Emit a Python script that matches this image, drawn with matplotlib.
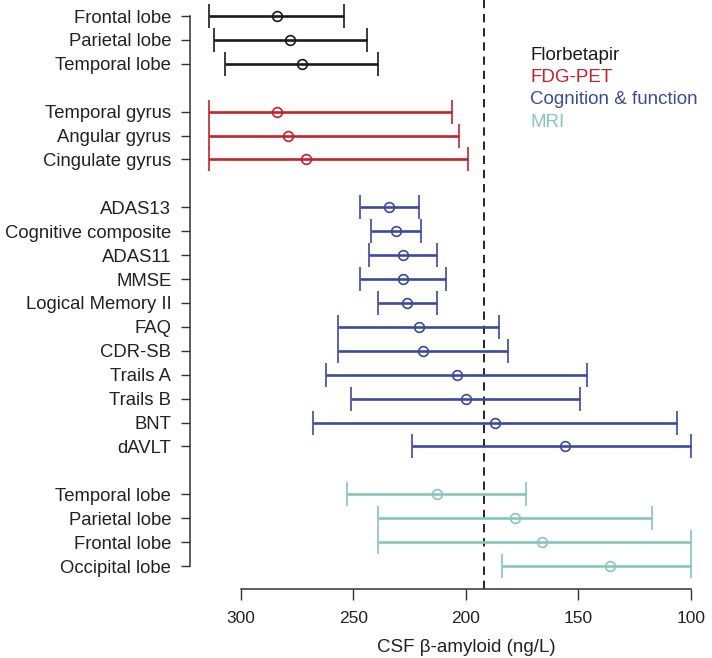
import matplotlib
matplotlib.use("Agg")
import matplotlib.pyplot as plt
import numpy as np

plt.rcParams['font.family'] = ['Liberation Sans', 'DejaVu Sans']

# ---- data (CSF beta-amyloid, ng/L) ----
group_names = ["Florbetapir", "FDG-PET", "Cognition & function", "MRI"]
group_colors = ["#1a1a1a", "#c4222b", "#3b4a9a", "#86c6be"]

florbetapir_labels = ["Frontal lobe", "Parietal lobe", "Temporal lobe"]
florbetapir_est = [284, 278, 273]
florbetapir_upper = [314, 312, 307]
florbetapir_lower = [254, 244, 239]

fdg_labels = ["Temporal gyrus", "Angular gyrus", "Cingulate gyrus"]
fdg_est = [284, 279, 271]
fdg_upper = [314, 314, 314]
fdg_lower = [206, 203, 199]

cog_labels = ["ADAS13", "Cognitive composite", "ADAS11", "MMSE", "Logical Memory II",
              "FAQ", "CDR-SB", "Trails A", "Trails B", "BNT", "dAVLT"]
cog_est = [234, 231, 228, 228, 226, 221, 219, 204, 200, 187, 156]
cog_upper = [247, 242, 243, 247, 239, 257, 257, 262, 251, 268, 224]
cog_lower = [221, 220, 213, 209, 213, 185, 181, 146, 149, 106, 100]

mri_labels = ["Temporal lobe", "Parietal lobe", "Frontal lobe", "Occipital lobe"]
mri_est = [213, 178, 166, 136]
mri_upper = [253, 239, 239, 184]
mri_lower = [173, 117, 100, 100]

cutoff = 192
x_ticks = [300, 250, 200, 150, 100]

groups = [
    (florbetapir_labels, florbetapir_est, florbetapir_upper, florbetapir_lower),
    (fdg_labels, fdg_est, fdg_upper, fdg_lower),
    (cog_labels, cog_est, cog_upper, cog_lower),
    (mri_labels, mri_est, mri_upper, mri_lower),
]

fig = plt.figure(figsize=(7.12, 6.58), dpi=100)
ax = fig.add_axes([190/712, 69/658, (710-190)/712, (589+6)/658])

all_pos, all_labels = [], []
row = 0
for gi, (labs, est, up, lo) in enumerate(groups):
    pos = np.arange(row, row + len(labs))
    est = np.array(est, float); up = np.array(up, float); lo = np.array(lo, float)
    ax.errorbar(est, pos, xerr=[est - lo, up - est], fmt='o', color=group_colors[gi],
                mfc='none', mec=group_colors[gi], ms=7, mew=1.2,
                elinewidth=1.9, capsize=8.5, capthick=2.2, zorder=3)
    all_pos.extend(pos); all_labels.extend(labs)
    row += len(labs) + 1

nrows = all_pos[-1]
ax.set_ylim(nrows + 0.96, -0.92)
ax.set_xlim(322.6, 91.4)

ax.axvline(cutoff, color='black', lw=1.2, ls=(0, (5, 3.5)), zorder=2)

for s in ['top', 'right']:
    ax.spines[s].set_visible(False)
ax.spines['left'].set_bounds(0, nrows)
ax.spines['bottom'].set_bounds(300, 100)
for s in ['left', 'bottom']:
    ax.spines[s].set_color('#333333')
    ax.spines[s].set_linewidth(1.1)

ax.set_yticks(all_pos)
ax.set_yticklabels(all_labels, fontsize=13.3, color='#222222')
ax.set_xticks(x_ticks)
ax.set_xticklabels([str(t) for t in x_ticks], fontsize=12.5, color='#222222')
ax.tick_params(axis='y', length=6.5, width=1.0, color='#333333', pad=7)
ax.tick_params(axis='x', length=8, width=1.0, color='#333333', pad=7.5)
ax.set_xlabel("CSF β-amyloid (ng/L)", fontsize=13.5, color='#222222', labelpad=10)
ax.xaxis.label.set_x((466 - 190) / 520)

# legend as coloured text
for gi, name in enumerate(group_names):
    fig.text(530/712, 1 - (59.5 + gi*22.4)/658, name, color=group_colors[gi],
             fontsize=13.5, ha='left', va='baseline')

fig.savefig("out.png", dpi=100)
